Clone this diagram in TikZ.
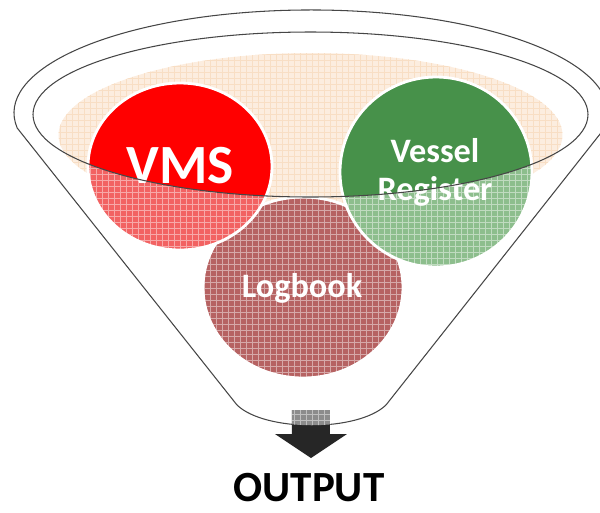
\documentclass[tikz,border=0pt]{standalone}
\usepackage{fontspec}
\setmainfont{Carlito}
\usepackage{tikz}
\usetikzlibrary{arrows.meta, positioning, calc}

\definecolor{vmsred}{RGB}{255,0,0}
\definecolor{vmsglass}{RGB}{242,98,98}
\definecolor{reggreen}{RGB}{71,145,74}
\definecolor{regglass}{RGB}{141,190,141}
\definecolor{logglass}{RGB}{182,98,98}
\definecolor{peach}{RGB}{252,237,223}
\definecolor{peachline}{RGB}{248,222,196}
\definecolor{rimgray}{RGB}{70,70,70}
\definecolor{outdark}{RGB}{38,38,38}
\definecolor{outglass}{RGB}{140,140,140}

\begin{document}
\begin{tikzpicture}[x=0.02cm, y=-0.02cm,
            rim/.style={draw=rimgray, line width=0.6pt},
            mesh/.style={draw=white, line width=0.45pt, opacity=0.45, step=0.12cm},
            ring/.style={draw=white, line width=1.6pt},
            tag/.style={text=white, align=center, font=\bfseries\fontsize{19.5}{21.5}\selectfont}]

            \clip (0,0) rectangle (600,512);

            % peach haze inside the funnel
            \fill[peach] (310.5,135) ellipse [x radius=252, y radius=82];
            \begin{scope}
                \clip (310.5,135) ellipse [x radius=252, y radius=82];
                \draw[mesh, draw=peachline, opacity=1] (40,40) grid (580,230);
            \end{scope}

            % logbook sits below the rim
            \begin{scope}
                \clip (303,287.5) ellipse [x radius=100, y radius=90.5];
                \fill[logglass] (200,190) rectangle (410,385);
                \draw[mesh] (200,190) grid (410,385);
            \end{scope}
            \draw[ring] (303,287.5) ellipse [x radius=100, y radius=90.5];

            % VMS and register, glassy under the rim
            \fill[vmsred] (180,166.5) ellipse [x radius=92, y radius=83.5];
            \begin{scope}
                \clip (180,166.5) ellipse [x radius=92, y radius=83.5];
                \clip (33,114.5) arc[start angle=180, end angle=0, x radius=277.5, y radius=82.5]
                    -- (588,520) -- (33,520) -- cycle;
                \fill[vmsglass] (85,80) rectangle (275,255);
                \draw[mesh] (85,80) grid (275,255);
            \end{scope}
            \draw[ring] (180,166.5) ellipse [x radius=92, y radius=83.5];

            \fill[reggreen] (436,172) ellipse [x radius=96, y radius=95];
            \begin{scope}
                \clip (436,172) ellipse [x radius=96, y radius=95];
                \clip (33,114.5) arc[start angle=180, end angle=0, x radius=277.5, y radius=82.5]
                    -- (588,520) -- (33,520) -- cycle;
                \fill[regglass] (335,70) rectangle (540,272);
                \draw[mesh] (335,70) grid (540,272);
            \end{scope}
            \draw[ring] (436,172) ellipse [x radius=96, y radius=95];

            \node[tag, anchor=base, font=\bfseries\fontsize{31.5}{34}\selectfont] (vms) at (180,183) {VMS};
            \node[tag] (register) at (435,172) {Vessel\\Register};
            \node[tag, anchor=base] (logbook) at (302,297) {Logbook};

            % funnel: rim and body
            \draw[rim] (310.5,114.5) ellipse [x radius=277.5, y radius=82.5];
            \draw[rim] (17.2,128) arc[start angle=171.6, end angle=368.4, x radius=297, y radius=103]
                -- (386,405) .. controls (358,432) and (265,432) .. (237,405) -- cycle;

            % output arrow
            \coordinate (tip) at (311,458);
            \fill[outdark] (292,410) -- (330,410) -- (330,434) -- (347,434) -- (tip)
                -- (275,434) -- (292,434) -- cycle;
            \begin{scope}
                \clip (237,380) -- (237,405) .. controls (265,432) and (358,432) .. (386,405)
                    -- (386,380) -- cycle;
                \fill[outglass] (292,410) rectangle (330,434);
                \draw[mesh] (292,410) grid (330,434);
            \end{scope}

            \node[anchor=base, inner sep=0pt, font=\bfseries\fontsize{24.5}{28}\selectfont] (output) at (309,501) {OUTPUT};
        \end{tikzpicture}
\end{document}
